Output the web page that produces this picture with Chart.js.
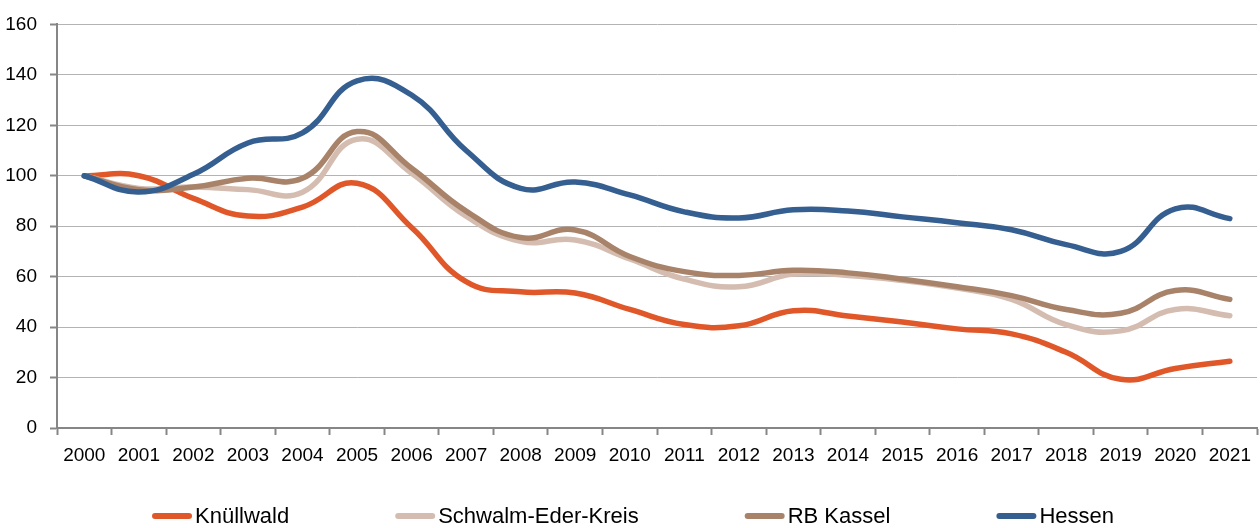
<!DOCTYPE html>
<html>
<head>
<meta charset="utf-8">
<script src="https://cdn.jsdelivr.net/npm/chart.js@4.4.1/dist/chart.umd.min.js"></script>
<style>
  html, body { margin: 0; padding: 0; background: #ffffff; }
  #wrap { width: 1260px; height: 528px; }
</style>
</head>
<body>
<div id="wrap"><canvas id="c" width="1260" height="528"></canvas></div>
<script>
const years = ["2000","2001","2002","2003","2004","2005","2006","2007","2008","2009","2010","2011","2012","2013","2014","2015","2016","2017","2018","2019","2020","2021"];
const knuellwald = [100, 100, 91, 84, 87.6, 97, 79.5, 58, 54, 53.5, 47, 41, 40.5, 46.5, 44.4, 42, 39.3, 37.3, 30, 19.3, 23.6, 26.5];
const schwalmEder = [100, 95, 95.5, 94.5, 93.5, 114.5, 101, 84, 74, 74.5, 67, 59, 56, 61, 60.5, 58.5, 55.5, 51, 41, 38.5, 47, 44.5];
const rbKassel = [100, 94.5, 95.5, 99, 99, 117.5, 103, 86, 75.5, 78.5, 68, 62, 60.5, 62.5, 61.5, 59, 56, 52.5, 47, 45.5, 54.5, 51];
const hessen = [100, 93.6, 100.6, 113, 117, 137.6, 132, 110, 95, 97.5, 92.4, 85.7, 83.3, 86.5, 86, 83.7, 81.4, 78.6, 72.7, 70, 86.9, 83];
const yTicks = [0, 20, 40, 60, 80, 100, 120, 140, 160];

const FONT = "'Liberation Sans', Arial, sans-serif";
const AXIS = '#868686';
const GRID = '#b3b3b3';

function ds(label, data, color, order) {
  return {
    label, data, order,
    borderColor: color, backgroundColor: color,
    borderWidth: 5.5, borderCapStyle: 'round', borderJoinStyle: 'round',
    tension: 0.45, pointRadius: 0, pointHoverRadius: 0, fill: false
  };
}

// custom bottom legend (wide spacing like the original)
const bottomLegend = {
  id: 'bottomLegend',
  afterDraw(chart) {
    const ctx = chart.ctx;
    const sets = chart.data.datasets;
    const sample = 40, gap = 3, spacing = 106;
    ctx.save();
    ctx.font = "22px " + FONT;
    const widths = sets.map(d => ctx.measureText(d.label).width);
    const total = widths.reduce((a, w) => a + sample + gap + w, 0) + spacing * (sets.length - 1);
    let x = chart.width / 2 + 3 - total / 2;
    const y = 516;
    sets.forEach((d, i) => {
      ctx.strokeStyle = d.borderColor;
      ctx.lineWidth = 6;
      ctx.lineCap = 'round';
      ctx.beginPath();
      ctx.moveTo(x + 3, y);
      ctx.lineTo(x + sample - 3, y);
      ctx.stroke();
      ctx.fillStyle = '#000';
      ctx.textBaseline = 'middle';
      ctx.textAlign = 'left';
      ctx.fillText(d.label, x + sample + gap, y + 1);
      x += sample + gap + widths[i] + spacing;
    });
    ctx.restore();
  }
};

new Chart(document.getElementById('c'), {
  type: 'line',
  data: {
    labels: years,
    datasets: [
      ds('Knüllwald', knuellwald, '#e0582a', 4),
      ds('Schwalm-Eder-Kreis', schwalmEder, '#d4bdb0', 3),
      ds('RB Kassel', rbKassel, '#a8836a', 2),
      ds('Hessen', hessen, '#355e91', 1)
    ]
  },
  plugins: [bottomLegend],
  options: {
    responsive: false,
    animation: false,
    devicePixelRatio: 1,
    layout: { padding: { top: 9, right: 2, left: 0, bottom: 62 } },
    plugins: {
      tooltip: { enabled: false },
      legend: { display: false }
    },
    scales: {
      x: {
        offset: true,
        afterFit: (axis) => { axis.height = 38; },
        grid: { display: true, drawOnChartArea: false, drawTicks: true, tickLength: 7, offset: true, tickColor: AXIS, tickWidth: 2 },
        border: { display: true, color: AXIS, width: 2 },
        ticks: { color: '#000', font: { family: FONT, size: 19 }, padding: 9, maxRotation: 0, autoSkip: false }
      },
      y: {
        min: 0, max: 160,
        afterBuildTicks: (axis) => { axis.ticks = yTicks.map(v => ({ value: v })); },
        afterFit: (axis) => { axis.width = 57; },
        grid: { color: GRID, lineWidth: 1, drawTicks: true, tickLength: 7, tickColor: AXIS, tickWidth: 2 },
        border: { display: true, color: AXIS, width: 2 },
        ticks: { color: '#000', font: { family: FONT, size: 19 }, padding: 13 }
      }
    }
  }
});
</script>
</body>
</html>
